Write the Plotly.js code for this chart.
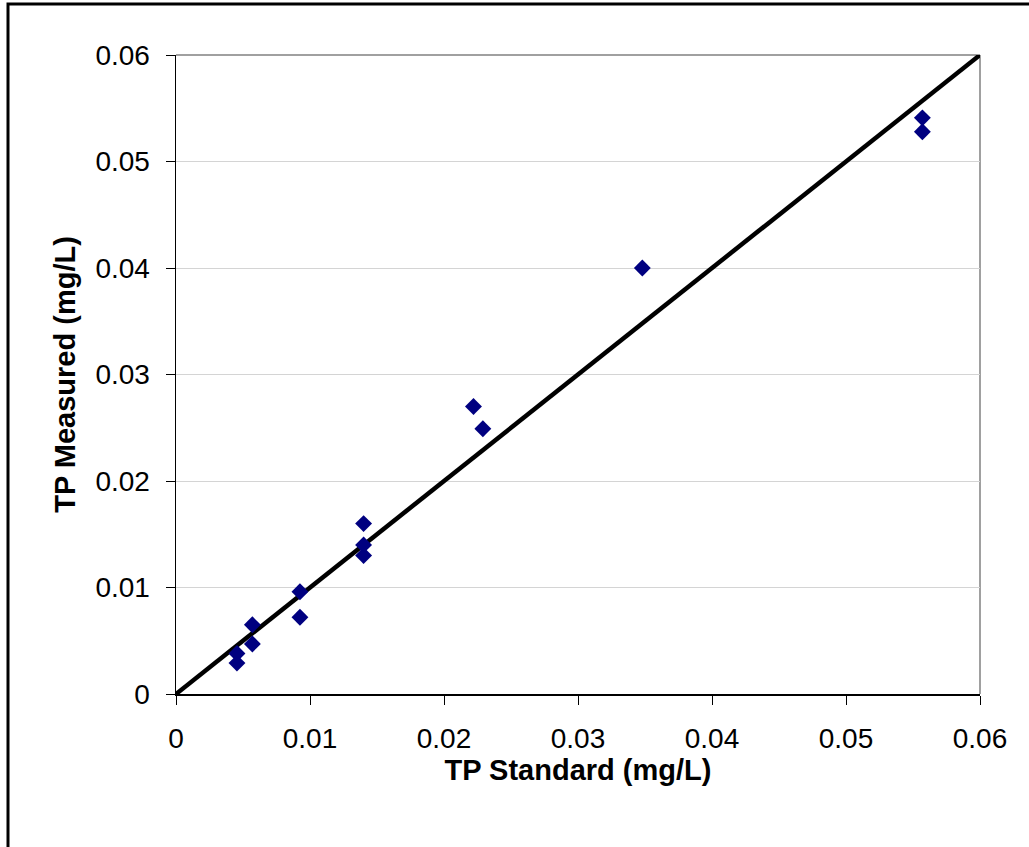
<!DOCTYPE html>
<html>
<head>
<meta charset="utf-8">
<script src="https://cdn.plot.ly/plotly-3.0.1.min.js"></script>
<style>html,body{margin:0;padding:0;background:#fff;}#chart{width:1029px;height:847px;}</style>
</head>
<body>
<div id="chart"></div>
<script>
// Data
const tpStandard = [0.00455, 0.00455, 0.0057, 0.0057, 0.00925, 0.00925, 0.0140, 0.0140, 0.0140, 0.0222, 0.0229, 0.0348, 0.0557, 0.0557];
const tpMeasured = [0.0029, 0.0038, 0.0047, 0.0065, 0.0072, 0.0096, 0.0130, 0.0140, 0.0160, 0.0270, 0.0249, 0.0400, 0.0541, 0.0528];
const lineX = [0, 0.06];
const lineY = [0, 0.06];
const tickVals = [0, 0.01, 0.02, 0.03, 0.04, 0.05, 0.06];
const tickText = ["0", "0.01", "0.02", "0.03", "0.04", "0.05", "0.06"];
const xTitle = "TP Standard (mg/L)";
const yTitle = "TP Measured (mg/L)";

const font = "Liberation Sans, Arial, sans-serif";

const traces = [
  {
    x: lineX, y: lineY, type: "scatter", mode: "lines",
    line: {color: "#000000", width: 4.5}, cliponaxis: false, hoverinfo: "skip", showlegend: false
  },
  {
    x: tpStandard, y: tpMeasured, type: "scatter", mode: "markers",
    marker: {symbol: "diamond", color: "#000080", size: 13, line: {width: 0}},
    cliponaxis: false, showlegend: false
  }
];

const axisCommon = {
  range: [0, 0.06],
  tickvals: tickVals, ticktext: tickText,
  ticks: "outside", ticklen: 9, tickwidth: 1, tickcolor: "#000",
  ticklabelstandoff: 10,
  showline: true, linecolor: "#000", linewidth: 1.5,
  zeroline: false,
  tickfont: {family: font, size: 28, color: "#000"},
  fixedrange: true
};

const layout = {
  width: 1029, height: 847,
  margin: {l: 176, r: 49, t: 55, b: 153, pad: 0},
  paper_bgcolor: "#fff", plot_bgcolor: "#fff",
  showlegend: false,
  xaxis: Object.assign({}, axisCommon, {
    showgrid: false,
    title: {text: "<b>" + xTitle + "</b>", font: {family: font, size: 29, color: "#000"}, standoff: 3}
  }),
  yaxis: Object.assign({}, axisCommon, {
    showgrid: true, gridcolor: "#d4d4d4", gridwidth: 1,
    title: {text: "<b>" + yTitle + "</b>", font: {family: font, size: 29, color: "#000"}, standoff: 11}
  }),
  shapes: [
    {type: "line", xref: "paper", yref: "paper", x0: 0, x1: 1, y0: 1, y1: 1, line: {color: "#808080", width: 1.5}, layer: "below"},
    {type: "line", xref: "paper", yref: "paper", x0: 1, x1: 1, y0: 0, y1: 1, line: {color: "#808080", width: 1.5}, layer: "below"},
    {type: "rect", xref: "paper", yref: "paper",
     x0: (8 - 176) / 804, x1: (1060 - 176) / 804,
     y0: (694 - 880) / 639, y1: (694 - 4) / 639,
     line: {color: "#000", width: 3}, fillcolor: "rgba(0,0,0,0)", layer: "below"}
  ]
};

Plotly.newPlot("chart", traces, layout, {staticPlot: true, displayModeBar: false});
</script>
</body>
</html>
